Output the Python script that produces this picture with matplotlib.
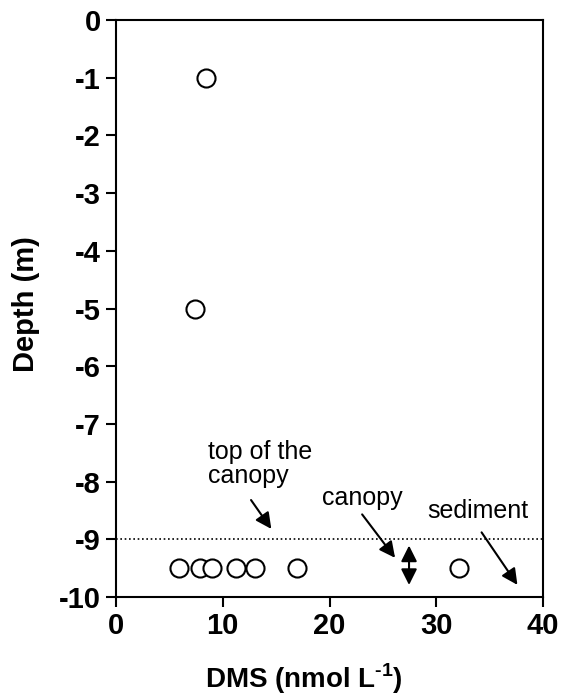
import matplotlib
matplotlib.use("Agg")
import matplotlib.pyplot as plt

plt.rcParams["font.family"] = ["Liberation Sans", "DejaVu Sans"]
plt.rcParams["axes.unicode_minus"] = False
plt.rcParams["mathtext.fontset"] = "custom"
plt.rcParams["mathtext.rm"] = "Liberation Sans:bold"
plt.rcParams["mathtext.bf"] = "Liberation Sans:bold"

# DMS profile
dms = [8.4, 7.4, 5.9, 7.9, 9.0, 11.2, 13.0, 17.0, 32.1]
depth = [-1, -5, -9.5, -9.5, -9.5, -9.5, -9.5, -9.5, -9.5]
canopy_top = -9
xticks = [0, 10, 20, 30, 40]
yticks = list(range(0, -11, -1))

fig = plt.figure(figsize=(5.67, 6.99), dpi=100)
ax = fig.add_axes([116 / 567, 1 - 597 / 699, 427 / 567, 577 / 699])

ax.plot(dms, depth, "o", mfc="white", mec="black", ms=13, mew=1.5, clip_on=False, zorder=3)
ax.axhline(canopy_top, color="black", ls=(0, (1, 1.6)), lw=1.2)

ax.set_xlim(0, 40)
ax.set_ylim(-10, 0)
ax.set_xticks(xticks)
ax.set_yticks(yticks)
ax.tick_params(direction="out", length=7, width=1.5, labelsize=21, pad=4)
for lab in ax.get_xticklabels() + ax.get_yticklabels():
    lab.set_fontweight("bold")
for s in ax.spines.values():
    s.set_linewidth(1.5)

ax.set_ylabel("Depth (m)", fontsize=21, fontweight="bold")
ax.set_xlabel("DMS (nmol L$^{\\text{-1}}$)", fontsize=20, fontweight="bold")
ax.yaxis.set_label_coords(-0.178, 0.508)
ax.xaxis.set_label_coords(0.44, -0.112)

arr = dict(arrowstyle="-|>", color="black", lw=1.5, mutation_scale=24)
ax.text(8.6, -7.28, "top of the\ncanopy", fontsize=18, ha="left", va="top", linespacing=0.98)
ax.annotate("", xy=(14.7, -8.86), xytext=(12.5, -8.28), arrowprops=arr)
ax.text(23.1, -8.08, "canopy", fontsize=18, ha="center", va="top")
ax.annotate("", xy=(26.3, -9.36), xytext=(22.9, -8.53), arrowprops=arr)
ax.annotate("", xy=(27.45, -9.06), xytext=(27.45, -9.84),
            arrowprops=dict(arrowstyle="<|-|>", color="black", lw=1.5, mutation_scale=24))
ax.text(33.9, -8.3, "sediment", fontsize=18, ha="center", va="top")
ax.annotate("", xy=(37.75, -9.83), xytext=(34.1, -8.84), arrowprops=arr)

fig.savefig("out.png", dpi=100)
